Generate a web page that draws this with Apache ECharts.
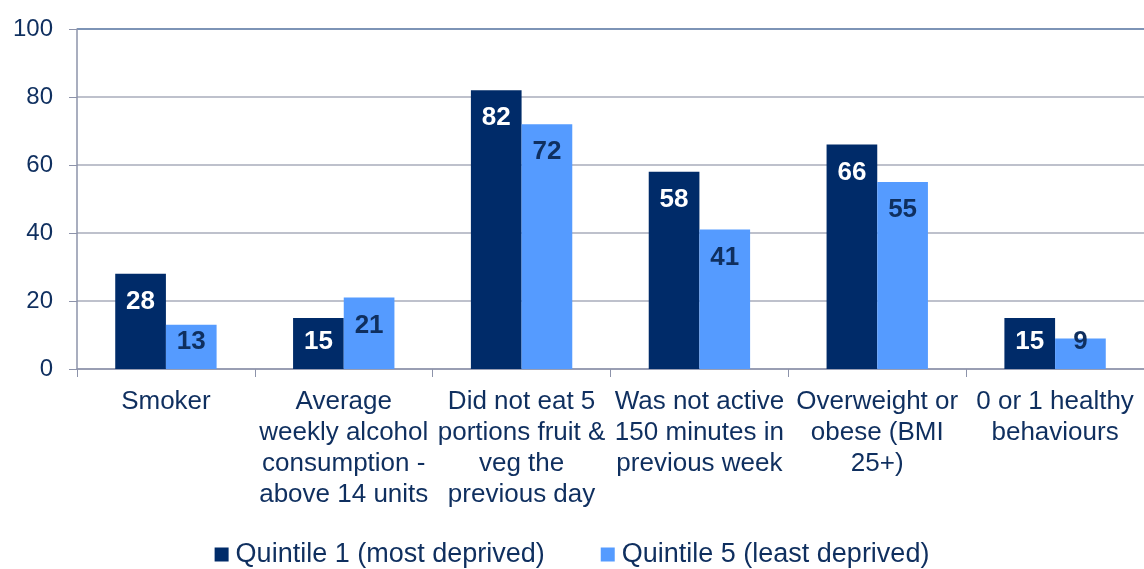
<!DOCTYPE html>
<html>
<head>
<meta charset="utf-8">
<script src="https://cdn.jsdelivr.net/npm/echarts@6/dist/echarts.min.js"></script>
<style>
  html, body { margin: 0; padding: 0; background: #fff; }
  #chart { width: 1144px; height: 569px; }
</style>
</head>
<body>
<div id="chart"></div>
<script>
var categories = [
    'Smoker',
    'Average\nweekly alcohol\nconsumption -\nabove 14 units',
    'Did not eat 5\nportions fruit &\nveg the\nprevious day',
    'Was not active\n150 minutes in\nprevious week',
    'Overweight or\nobese (BMI\n25+)',
    '0 or 1 healthy\nbehaviours'
];
var quintile1 = [28, 15, 82, 58, 66, 15];
var quintile5 = [13, 21, 72, 41, 55, 9];
var yTicks = [0, 20, 40, 60, 80, 100];

var navy = '#0f2f5f';
var font = '"Liberation Sans", Arial, sans-serif';

// short bars: label sits near the base, like Excel's "inside end" fallback
function withLabels(values) {
    return values.map(function (v) {
        if (v < 16) {
            return { value: v, label: { position: 'insideBottom', distance: 14 } };
        }
        return v;
    });
}

var chart = echarts.init(document.getElementById('chart'));

chart.setOption({
    animation: false,
    textStyle: { fontFamily: font },
    grid: {
        left: 77,
        right: 0,
        top: 29,
        bottom: 200
    },
    legend: {
        bottom: 1,
        left: 'center',
        padding: 0,
        itemWidth: 14,
        itemHeight: 14,
        itemGap: 56,
        icon: 'rect',
        textStyle: { color: navy, fontSize: 27, fontFamily: font, padding: [0, 0, 0, 2] },
        data: ['Quintile 1 (most deprived)', 'Quintile 5 (least deprived)']
    },
    xAxis: {
        type: 'category',
        data: categories,
        axisLine: { lineStyle: { color: '#8d93aa', width: 1.5 } },
        axisTick: { show: true, length: 8, alignWithLabel: false, lineStyle: { color: '#8d93aa' } },
        axisLabel: {
            interval: 0,
            color: navy,
            fontSize: 26,
            lineHeight: 31,
            margin: 17,
            fontFamily: font
        }
    },
    yAxis: {
        type: 'value',
        min: yTicks[0],
        max: yTicks[yTicks.length - 1],
        interval: 20,
        axisLine: { show: true, lineStyle: { color: '#8d93aa', width: 1.5 } },
        axisTick: { show: true, length: 8, lineStyle: { color: '#8d93aa' } },
        axisLabel: {
            color: navy,
            fontSize: 24,
            margin: 24,
            fontFamily: font
        },
        splitLine: {
            lineStyle: {
                color: ['#a9acbb', '#a9acbb', '#a9acbb', '#a9acbb', '#a9acbb', '#52709e'],
                width: 1.5
            }
        }
    },
    series: [
        {
            name: 'Quintile 1 (most deprived)',
            type: 'bar',
            data: withLabels(quintile1),
            barGap: '0%',
            barCategoryGap: '43%',
            itemStyle: { color: '#002b69' },
            label: {
                show: true,
                position: 'insideTop',
                distance: 15,
                color: '#ffffff',
                fontWeight: 'bold',
                fontSize: 26,
                fontFamily: font
            }
        },
        {
            name: 'Quintile 5 (least deprived)',
            type: 'bar',
            data: withLabels(quintile5),
            itemStyle: { color: '#559bff' },
            label: {
                show: true,
                position: 'insideTop',
                distance: 15,
                color: '#0f2f5f',
                fontWeight: 'bold',
                fontSize: 26,
                fontFamily: font
            }
        }
    ]
});
</script>
</body>
</html>
